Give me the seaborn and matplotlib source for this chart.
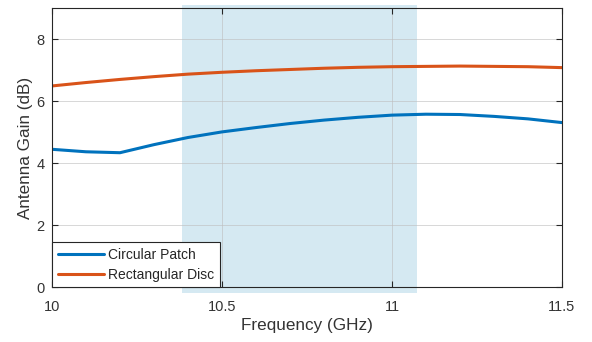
import numpy as np
import pandas as pd
import matplotlib
matplotlib.use("Agg")
import matplotlib.pyplot as plt
import seaborn as sns

freq = [10.0, 10.1, 10.2, 10.3, 10.4, 10.5, 10.6, 10.7, 10.8, 10.9, 11.0, 11.1, 11.2, 11.3, 11.4, 11.5]
circular_patch = [4.45, 4.37, 4.34, 4.60, 4.83, 5.01, 5.15, 5.28, 5.39, 5.48, 5.55, 5.58, 5.57, 5.51, 5.43, 5.31]
rectangular_disc = [6.49, 6.60, 6.70, 6.79, 6.87, 6.93, 6.98, 7.02, 7.06, 7.09, 7.11, 7.12, 7.13, 7.12, 7.11, 7.08]
band = [10.382, 11.073]
x_ticks = [10, 10.5, 11, 11.5]
x_tick_labels = ["10", "10.5", "11", "11.5"]
y_ticks = [0, 2, 4, 6, 8]

sns.set_theme(style="white")
plt.rcParams['font.family'] = ['Liberation Sans', 'DejaVu Sans']

df = pd.DataFrame({
    "freq": freq * 2,
    "gain": circular_patch + rectangular_disc,
    "series": ["Circular Patch"] * len(freq) + ["Rectangular Disc"] * len(freq),
})

fig = plt.figure(figsize=(5.92, 3.42), dpi=100)
ax = fig.add_axes([0.0878, 0.1594, 0.8615, 0.8172])

ax.axvspan(band[0], band[1], ymin=-0.018, ymax=1.012, color="#d5e9f2", zorder=0.5, clip_on=False, lw=0)

sns.lineplot(data=df, x="freq", y="gain", hue="series",
             palette={"Circular Patch": "#0072BD", "Rectangular Disc": "#D95319"},
             linewidth=2.2, ax=ax, zorder=3)

ax.set_xlim(10, 11.5)
ax.set_ylim(0, 9)
ax.set_xticks(x_ticks)
ax.set_xticklabels(x_tick_labels)
ax.set_yticks(y_ticks)
ax.grid(True, color="#bdbdbd", linewidth=0.7, alpha=0.6, zorder=1)
ax.tick_params(direction="in", length=4, width=0.8, top=True, right=True,
               bottom=True, left=True, labelsize=10.5, colors="#262626")
ax.tick_params(axis="x", pad=9, labelcolor="#333333")
ax.tick_params(axis="y", pad=5.5, labelcolor="#333333")
for s in ax.spines.values():
    s.set_color("#262626")
    s.set_linewidth(0.8)
    s.set_zorder(4)
ax.set_xlabel("Frequency (GHz)", fontsize=12.3, color="#333333", labelpad=3)
ax.set_ylabel("Antenna Gain (dB)", fontsize=12.3, color="#333333", labelpad=2.5)

leg = ax.legend(loc="lower left", fontsize=10, frameon=True, fancybox=False,
                borderaxespad=0, handlelength=3.3, handletextpad=0.3,
                borderpad=0.42, labelspacing=0.4)
leg.get_frame().set_edgecolor("#262626")
leg.get_frame().set_linewidth(0.8)
leg.get_frame().set_alpha(1)
leg.set_zorder(5)
for t in leg.get_texts():
    t.set_color("#262626")

fig.savefig("out.png", dpi=100)
